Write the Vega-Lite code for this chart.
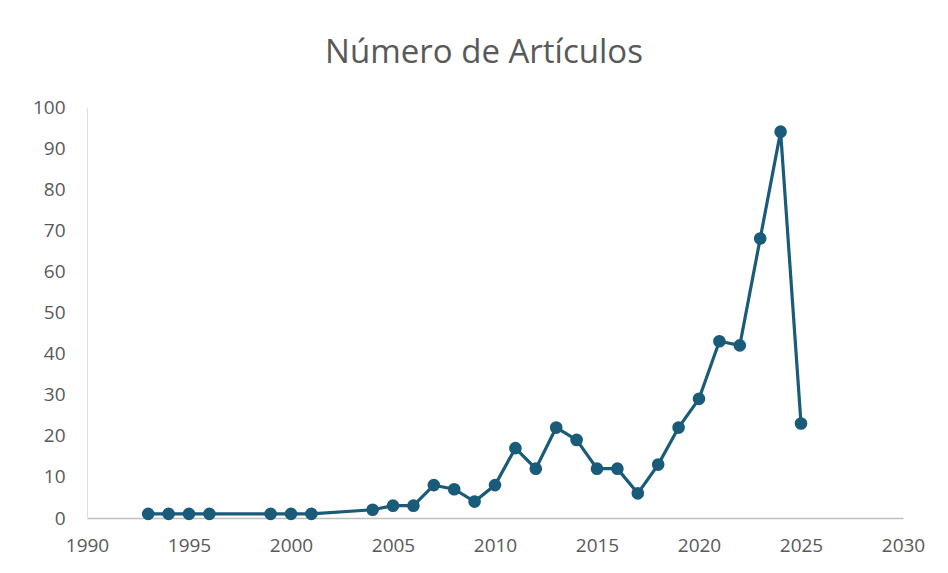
{
  "$schema": "https://vega.github.io/schema/vega-lite/v6.json",
  "autosize": "none",
  "padding": {"left": 87, "top": 107, "right": 45, "bottom": 55},
  "width": 816,
  "height": 411,
  "background": "white",
  "title": {
    "text": "Número de Artículos",
    "fontSize": 33,
    "fontWeight": "normal",
    "font": "Open Sans",
    "color": "#595959",
    "anchor": "middle",
    "dx": -11,
    "offset": 28
  },
  "config": {
    "view": {"stroke": null},
    "axis": {
      "labelFont": "Open Sans",
      "labelFontSize": 19,
      "labelColor": "#595959",
      "grid": false,
      "ticks": false,
      "title": null
    }
  },
  "data": {
    "values": [
      {"year": 1993, "n": 1}, {"year": 1994, "n": 1}, {"year": 1995, "n": 1}, {"year": 1996, "n": 1},
      {"year": 1999, "n": 1}, {"year": 2000, "n": 1}, {"year": 2001, "n": 1},
      {"year": 2004, "n": 2}, {"year": 2005, "n": 3}, {"year": 2006, "n": 3},
      {"year": 2007, "n": 8}, {"year": 2008, "n": 7}, {"year": 2009, "n": 4},
      {"year": 2010, "n": 8}, {"year": 2011, "n": 17}, {"year": 2012, "n": 12},
      {"year": 2013, "n": 22}, {"year": 2014, "n": 19}, {"year": 2015, "n": 12},
      {"year": 2016, "n": 12}, {"year": 2017, "n": 6}, {"year": 2018, "n": 13},
      {"year": 2019, "n": 22}, {"year": 2020, "n": 29}, {"year": 2021, "n": 43},
      {"year": 2022, "n": 42}, {"year": 2023, "n": 68}, {"year": 2024, "n": 94},
      {"year": 2025, "n": 23}
    ]
  },
  "mark": {"type": "line", "color": "#1b5b7a", "strokeWidth": 3.2, "point": {"filled": true, "size": 160, "color": "#1b5b7a", "opacity": 1}},
  "encoding": {
    "x": {
      "field": "year",
      "type": "quantitative",
      "scale": {"domain": [1990, 2030], "nice": false, "zero": false},
      "axis": {"values": [1990, 1995, 2000, 2005, 2010, 2015, 2020, 2025, 2030], "format": "d", "labelPadding": 18, "domainColor": "#bfbfbf", "domainWidth": 1.5, "labelFlush": false}
    },
    "y": {
      "field": "n",
      "type": "quantitative",
      "scale": {"domain": [0, 100], "nice": false},
      "axis": {"values": [0, 10, 20, 30, 40, 50, 60, 70, 80, 90, 100], "labelPadding": 22, "domainColor": "#e0e0e0", "labelFlush": false}
    }
  }
}
